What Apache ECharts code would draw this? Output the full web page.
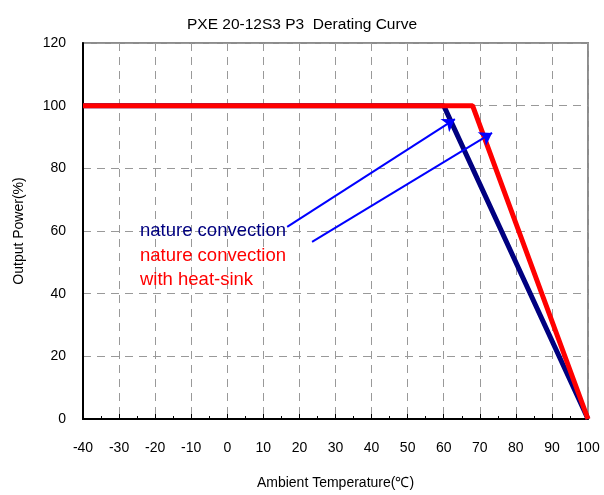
<!DOCTYPE html>
<html>
<head>
<meta charset="utf-8">
<script src="https://cdn.jsdelivr.net/npm/echarts@6/dist/echarts.min.js"></script>
<style>
html,body{margin:0;padding:0;background:#fff;}
#chart{width:604px;height:495px;}
</style>
</head>
<body>
<div id="chart"></div>
<script>
// Derating curve data: [ambient temperature (°C), output power (%)]
const natureConvection = [[-40, 100], [60, 100], [100, 0]];
const withHeatSink = [[-40, 100], [68, 100], [100, 0]];
// Annotation arrows: [start, tip] in data coordinates
const arrowNature = [[16.6, 61.3], [63.1, 95.7]];
const arrowHeatSink = [[23.5, 56.5], [73.4, 91.3]];
const xTicks = { min: -40, max: 100, interval: 10 };
const yTicks = { min: 0, max: 120, interval: 20 };
const titleText = 'PXE 20-12S3 P3  Derating Curve';
const xName = 'Ambient Temperature(\u2103)';
const yName = 'Output Power(%)';
const legendLines = ['nature convection', 'nature convection', 'with heat-sink'];

const FONT = '"Liberation Sans", Arial, sans-serif';
const chart = echarts.init(document.getElementById('chart'), null, { renderer: 'canvas' });

chart.setOption({
  animation: false,
  backgroundColor: '#fff',
  title: {
    text: titleText,
    left: 'center',
    top: 12,
    textStyle: { fontFamily: FONT, fontSize: 15.5, fontWeight: 'normal', color: '#000' }
  },
  grid: {
    left: 83, right: 16, top: 43, bottom: 72,
    show: true, borderColor: '#8c8c8c', borderWidth: 2, backgroundColor: 'transparent'
  },
  xAxis: {
    type: 'value',
    min: xTicks.min, max: xTicks.max, interval: xTicks.interval,
    name: xName, nameLocation: 'middle', nameGap: 57,
    nameTextStyle: { fontFamily: FONT, fontSize: 14, color: '#000' },
    axisLine: { onZero: false, lineStyle: { color: '#000', width: 2 } },
    axisTick: { inside: true, length: 5, lineStyle: { color: '#000' } },
    minorTick: { show: true, splitNumber: 2, length: 3, lineStyle: { color: '#000' } },
    axisLabel: { margin: 22, fontFamily: FONT, fontSize: 14, color: '#000' },
    splitLine: { show: true, lineStyle: { color: '#999', type: [8, 6], width: 1 } }
  },
  yAxis: {
    type: 'value',
    min: yTicks.min, max: yTicks.max, interval: yTicks.interval,
    name: yName, nameLocation: 'middle', nameGap: 57,
    nameTextStyle: { fontFamily: FONT, fontSize: 14, color: '#000' },
    axisLine: { show: true, onZero: false, lineStyle: { color: '#000', width: 2 } },
    axisTick: { show: false },
    axisLabel: { margin: 17, fontFamily: FONT, fontSize: 14, color: '#000' },
    splitLine: { show: true, lineStyle: { color: '#999', type: [8, 6], width: 1 } }
  },
  series: [
    {
      name: 'nature convection',
      type: 'line',
      data: natureConvection,
      symbol: 'none',
      z: 3,
      lineStyle: { color: '#000080', width: 5 }
    },
    {
      name: 'nature convection with heat-sink',
      type: 'line',
      data: withHeatSink,
      symbol: 'none',
      z: 4,
      lineStyle: { color: '#ff0000', width: 5 }
    },
    {
      type: 'lines',
      coordinateSystem: 'cartesian2d',
      z: 5,
      symbol: ['none', 'arrow'],
      symbolSize: 12,
      lineStyle: { color: '#0000ff', width: 2, opacity: 1 },
      data: [{ coords: arrowNature }, { coords: arrowHeatSink }]
    }
  ],
  graphic: [
    { type: 'text', left: 140, top: 221, z: 10,
      style: { text: legendLines[0], fill: '#000080', font: '18.5px ' + FONT } },
    { type: 'text', left: 140, top: 246, z: 10,
      style: { text: legendLines[1], fill: '#ff0000', font: '18.5px ' + FONT } },
    { type: 'text', left: 140, top: 270, z: 10,
      style: { text: legendLines[2], fill: '#ff0000', font: '18.5px ' + FONT } }
  ]
});
</script>
</body>
</html>
